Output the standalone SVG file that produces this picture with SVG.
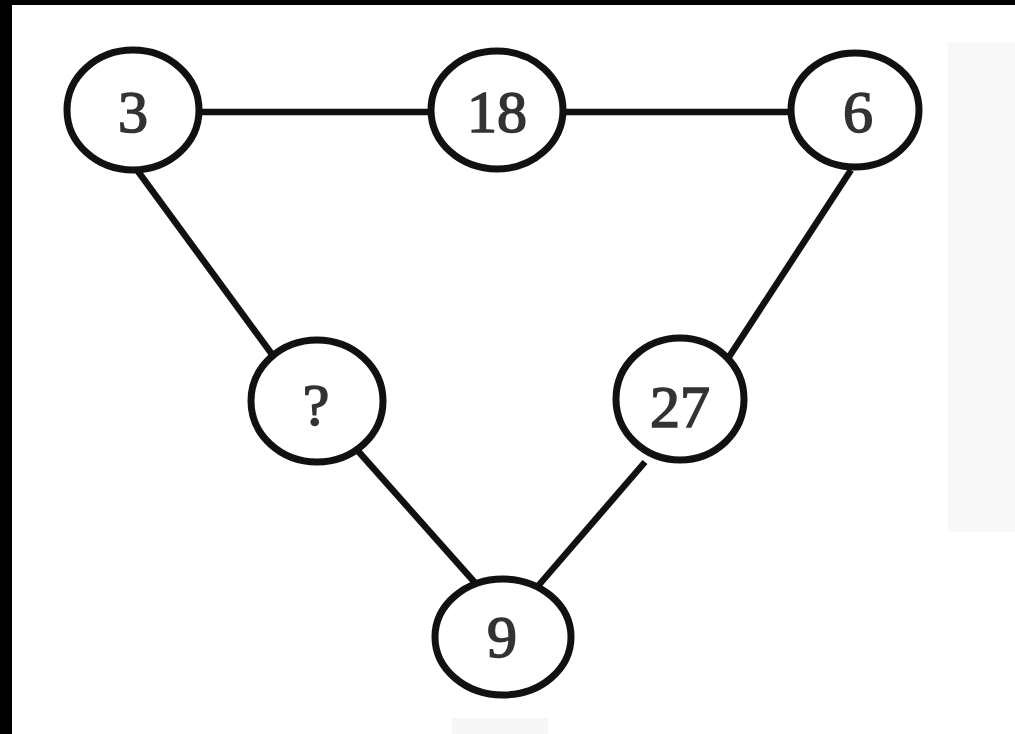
<svg xmlns="http://www.w3.org/2000/svg" width="1015" height="734" viewBox="0 0 1015 734">
<style>
.node ellipse{fill:#fff;stroke:#111;stroke-width:7}
.node text{font-family:"Liberation Serif","Times New Roman",serif;font-size:60px;fill:#333;stroke:#333;stroke-width:1.6;text-anchor:middle}
.edges line{stroke:#111;stroke-width:6.5;stroke-linecap:butt}
</style>
<rect x="0" y="0" width="1015" height="734" fill="#fff"/>
<rect x="948" y="42" width="67" height="490" fill="#f8f8f8"/>
<rect x="452" y="718" width="96" height="16" fill="#f7f7f7"/>
<rect x="0" y="0" width="1015" height="5" fill="#000"/>
<rect x="0" y="0" width="12" height="734" fill="#000"/>
<g id="connectors" class="edges">
<line x1="200" y1="112" x2="432" y2="112"/>
<line x1="562" y1="112" x2="792" y2="112"/>
<line x1="137" y1="170" x2="274" y2="357"/>
<line x1="851" y1="170" x2="727" y2="360"/>
<line x1="358" y1="451" x2="477" y2="585"/>
<line x1="645" y1="462" x2="538" y2="586"/>
</g>
<g id="n3" class="node"><ellipse cx="133" cy="110" rx="66" ry="60"/><text x="133" y="132">3</text></g>
<g id="n18" class="node"><ellipse cx="497" cy="110" rx="66" ry="59"/><text x="497" y="132">18</text></g>
<g id="n6" class="node"><ellipse cx="855" cy="110" rx="64" ry="57"/><text x="858" y="132">6</text></g>
<g id="nq" class="node"><ellipse cx="317" cy="401" rx="66" ry="61"/><text x="316" y="425">?</text></g>
<g id="n27" class="node"><ellipse cx="680" cy="399" rx="64" ry="61"/><text x="680" y="427">27</text></g>
<g id="n9" class="node"><ellipse cx="503" cy="637" rx="68" ry="58"/><text x="502" y="657">9</text></g>
</svg>
